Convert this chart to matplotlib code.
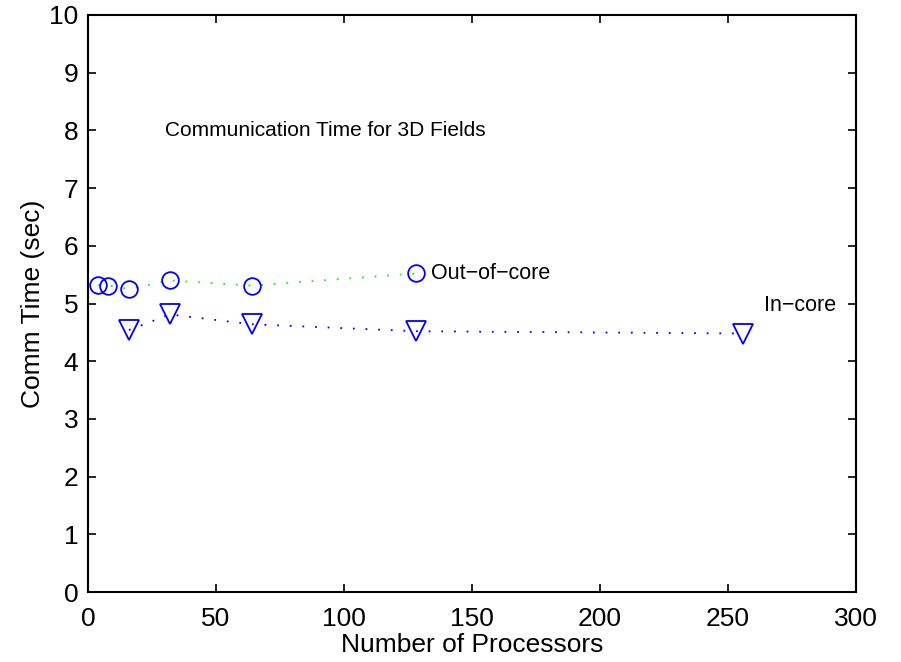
import matplotlib
matplotlib.use("Agg")
import matplotlib.pyplot as plt

plt.rcParams['font.family'] = ['Liberation Sans', 'DejaVu Sans']

out_x = [4, 8, 16, 32, 64, 128]
out_y = [5.32, 5.31, 5.25, 5.40, 5.31, 5.52]
in_x = [16, 32, 64, 128, 256]
in_y = [4.54, 4.81, 4.64, 4.52, 4.48]

fig = plt.figure(figsize=(9.01, 6.62), dpi=100)
ax = fig.add_axes([88/901, 1-592/662, (856-88)/901, (592-15)/662])

ax.plot(out_x, out_y, linestyle=(0, (1, 6)), color='#00ff00', linewidth=1.3)
ax.plot(out_x, out_y, linestyle='none', marker='o', markersize=12,
        markerfacecolor='none', markeredgecolor='#0000ff', markeredgewidth=1.3)
ax.plot(in_x, in_y, linestyle=(0, (1, 6)), color='#0000ff', linewidth=1.3)
ax.plot(in_x, in_y, linestyle='none', marker='v', markersize=14,
        markerfacecolor='none', markeredgecolor='#0000ff', markeredgewidth=1.3)

ax.text(134, 5.52, 'Out\u2212of\u2212core', fontsize=15.5, va='center', ha='left')
ax.text(264, 4.97, 'In\u2212core', fontsize=15.5, va='center', ha='left')
ax.text(30, 8.0, 'Communication Time for 3D Fields', fontsize=15, va='center', ha='left')

ax.set_xlim(0, 300)
ax.set_ylim(0, 10)
ax.set_xticks(range(0, 301, 50))
ax.set_yticks(range(0, 11))
ax.tick_params(direction='in', top=True, right=True, labelsize=19, length=6, width=1.2)
ax.tick_params(axis='x', pad=11)
ax.tick_params(axis='y', pad=7)
for s in ax.spines.values():
    s.set_linewidth(1.5)
ax.set_xlabel('Number of Processors', fontsize=19, labelpad=1)
ax.set_ylabel('Comm Time (sec)', fontsize=19, labelpad=3)

fig.savefig('out.png', dpi=100)
